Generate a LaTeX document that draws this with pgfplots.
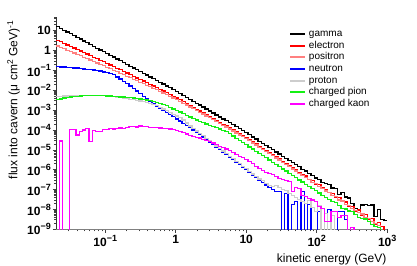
\documentclass[border=0pt]{standalone}
\usepackage{pgfplots}
\pgfplotsset{compat=1.18}
\usepackage{pgfplotstable}
\usepackage{fontspec}
\setmainfont{Liberation Sans}
\newcommand{\tl}[1]{\textbf{10}\raisebox{0.42em}{\fontsize{9bp}{9bp}\selectfont\bfseries #1}}
\definecolor{posred}{RGB}{255,128,128}
\definecolor{protgray}{RGB}{205,205,205}
\definecolor{piongreen}{RGB}{20,240,20}
\definecolor{kaonmag}{RGB}{255,0,255}
\definecolor{elered}{RGB}{255,0,0}
\definecolor{neublue}{RGB}{0,0,255}

\pgfplotstableread{
E gam ele pos neu pro pio kao
0.02 16.2 3.33 1.72 0.155 4.90e-3 3.39e-3 1e-10
0.02229 13.2 2.79 1.46 0.151 5.01e-3 3.72e-3 2.82e-5
0.02483 10.7 2.33 1.24 0.148 5.13e-3 4.07e-3 1e-10
0.02767 8.71 1.95 1.05 0.143 5.25e-3 4.37e-3 1e-10
0.03084 7.08 1.63 0.893 0.138 5.25e-3 4.57e-3 1.10e-4
0.03436 5.75 1.36 0.757 0.135 5.37e-3 4.79e-3 1.10e-4
0.03829 4.68 1.14 0.643 0.132 5.50e-3 5.01e-3 5.62e-5
0.04267 3.80 0.957 0.546 0.126 5.50e-3 5.25e-3 8.32e-5
0.04755 3.09 0.800 0.462 0.120 5.62e-3 5.37e-3 1.00e-4
0.05298 2.51 0.668 0.392 0.115 5.62e-3 5.50e-3 1.23e-4
0.05904 2.04 0.561 0.333 0.110 5.62e-3 5.50e-3 2.57e-5
0.06579 1.66 0.469 0.282 0.106 5.50e-3 5.50e-3 9.55e-5
0.07331 1.33 0.392 0.239 0.101 5.50e-3 5.50e-3 8.32e-5
0.08169 1.08 0.329 0.204 9.33e-2 5.50e-3 5.37e-3 8.71e-5
0.09103 0.879 0.275 0.173 8.51e-2 5.37e-3 5.37e-3 1.10e-4
0.1014 0.713 0.229 0.146 7.76e-2 5.25e-3 5.25e-3 1.07e-4
0.1130 0.578 0.189 0.122 7.08e-2 5.01e-3 5.13e-3 1.17e-4
0.1260 0.470 0.157 0.103 6.03e-2 4.79e-3 5.01e-3 1.12e-4
0.1404 0.381 0.130 8.63e-2 4.68e-2 4.47e-3 4.90e-3 1.20e-4
0.1564 0.309 0.108 7.24e-2 3.72e-2 4.27e-3 4.68e-3 1.26e-4
0.1743 0.251 8.97e-2 6.11e-2 2.88e-2 3.98e-3 4.57e-3 1.17e-4
0.1942 0.204 7.43e-2 5.13e-2 2.24e-2 3.80e-3 4.37e-3 1.32e-4
0.2164 0.165 6.17e-2 4.32e-2 1.66e-2 3.55e-3 4.27e-3 1.45e-4
0.2412 0.134 5.10e-2 3.62e-2 1.23e-2 3.39e-3 4.07e-3 1.51e-4
0.2688 0.109 4.24e-2 3.04e-2 9.12e-3 3.16e-3 3.89e-3 1.41e-4
0.2995 8.84e-2 3.52e-2 2.56e-2 6.76e-3 2.88e-3 3.72e-3 1.58e-4
0.3338 7.16e-2 2.91e-2 2.15e-2 4.90e-3 2.69e-3 3.55e-3 1.51e-4
0.3719 5.82e-2 2.42e-2 1.81e-2 3.63e-3 2.45e-3 3.31e-3 1.45e-4
0.4145 4.72e-2 2.00e-2 1.52e-2 2.69e-3 2.19e-3 3.02e-3 1.38e-4
0.4618 3.83e-2 1.66e-2 1.28e-2 2.09e-3 1.91e-3 2.75e-3 1.32e-4
0.5146 3.11e-2 1.38e-2 1.08e-2 1.62e-3 1.66e-3 2.45e-3 1.35e-4
0.5735 2.52e-2 1.14e-2 8.97e-3 1.26e-3 1.38e-3 2.19e-3 1.26e-4
0.6390 2.05e-2 9.29e-3 7.41e-3 1.00e-3 1.15e-3 1.91e-3 1.20e-4
0.7121 1.66e-2 7.60e-3 6.11e-3 7.76e-4 9.33e-4 1.66e-3 1.17e-4
0.7935 1.35e-2 6.22e-3 5.05e-3 6.03e-4 7.76e-4 1.38e-3 1.12e-4
0.8842 1.09e-2 5.09e-3 4.16e-3 4.68e-4 6.31e-4 1.15e-3 1.05e-4
0.9853 8.83e-3 4.15e-3 3.42e-3 3.63e-4 5.13e-4 9.55e-4 9.55e-5
1.098 7.03e-3 3.33e-3 2.77e-3 2.82e-4 4.17e-4 8.13e-4 8.71e-5
1.223 5.60e-3 2.68e-3 2.24e-3 2.19e-4 3.24e-4 6.76e-4 7.59e-5
1.363 4.46e-3 2.15e-3 1.82e-3 1.70e-4 2.29e-4 5.50e-4 6.31e-5
1.519 3.56e-3 1.73e-3 1.47e-3 1.32e-4 1.62e-4 4.57e-4 5.25e-5
1.693 2.83e-3 1.39e-3 1.19e-3 1.02e-4 1.17e-4 3.72e-4 4.68e-5
1.886 2.25e-3 1.12e-3 9.66e-4 7.94e-5 8.91e-5 3.16e-4 4.17e-5
2.102 1.80e-3 9.02e-4 7.83e-4 6.03e-5 6.76e-5 2.75e-4 3.98e-5
2.342 1.43e-3 7.24e-4 6.35e-4 4.47e-5 5.13e-5 2.34e-4 3.47e-5
2.610 1.14e-3 5.82e-4 5.14e-4 3.31e-5 3.89e-5 2.04e-4 3.02e-5
2.909 9.08e-4 4.68e-4 4.16e-4 2.51e-5 3.02e-5 1.74e-4 2.63e-5
3.241 7.24e-4 3.77e-4 3.36e-4 1.86e-5 2.09e-5 1.51e-4 2.19e-5
3.612 5.77e-4 3.03e-4 2.70e-4 1.38e-5 1.55e-5 1.29e-4 1.82e-5
4.025 4.59e-4 2.43e-4 2.17e-4 1.02e-5 1.15e-5 1.12e-4 1.45e-5
4.472 3.66e-4 1.96e-4 1.75e-4 7.76e-6 8.71e-6 9.55e-5 1.32e-5
4.983 2.92e-4 1.57e-4 1.40e-4 5.75e-6 6.46e-6 8.32e-5 1.10e-5
5.553 2.32e-4 1.25e-4 1.11e-4 4.27e-6 4.79e-6 6.46e-5 9.55e-6
6.188 1.85e-4 1.00e-4 8.91e-5 3.24e-6 3.63e-6 5.01e-5 7.59e-6
6.895 1.48e-4 8.02e-5 7.15e-5 2.40e-6 2.69e-6 3.89e-5 5.75e-6
7.683 1.17e-4 6.41e-5 5.71e-5 1.78e-6 2.00e-6 3.02e-5 4.57e-6
8.562 9.35e-5 5.12e-5 4.56e-5 1.32e-6 1.48e-6 2.34e-5 3.98e-6
9.541 7.45e-5 4.09e-5 3.64e-5 1.00e-6 1.12e-6 1.82e-5 3.16e-6
10.63 5.81e-5 3.21e-5 2.86e-5 7.41e-7 8.32e-7 1.41e-5 2.63e-6
11.85 4.53e-5 2.51e-5 2.24e-5 5.50e-7 6.17e-7 1.10e-5 2.00e-6
13.20 3.53e-5 1.96e-5 1.75e-5 4.07e-7 4.57e-7 8.51e-6 1.41e-6
14.71 2.75e-5 1.53e-5 1.36e-5 3.09e-7 3.47e-7 6.61e-6 1.12e-6
16.39 2.15e-5 1.20e-5 1.07e-5 2.29e-7 2.82e-7 5.13e-6 8.91e-7
18.27 1.67e-5 9.40e-6 8.38e-6 1.70e-7 2.09e-7 3.98e-6 7.08e-7
20.36 1.30e-5 7.31e-6 6.51e-6 1.26e-7 1.58e-7 3.09e-6 6.61e-7
22.68 1.02e-5 5.68e-6 5.06e-6 1.00e-7 1.41e-7 2.40e-6 5.62e-7
25.28 7.93e-6 4.41e-6 3.93e-6 7.94e-8 1.66e-7 1.82e-6 4.47e-7
28.17 6.18e-6 3.42e-6 3.05e-6 7.94e-8 1.26e-7 1.41e-6 3.72e-7
31.39 4.82e-6 2.65e-6 2.36e-6 1e-10 1.00e-7 1.10e-6 3.16e-7
34.98 3.76e-6 2.06e-6 1.84e-6 6.3e-8 8.9e-8 8.51e-7 2.82e-7
38.98 2.85e-6 1.60e-6 1.43e-6 1e-10 6.3e-8 6.61e-7 2.51e-7
43.43 2.35e-6 1.24e-6 1.10e-6 1.78e-8 5.0e-8 5.13e-7 7.94e-8
48.40 1.78e-6 9.62e-7 8.57e-7 2.5e-8 4.0e-8 3.98e-7 1.26e-7
53.93 1.42e-6 7.46e-7 6.65e-7 1e-10 3.2e-8 3.09e-7 1.17e-7
60.10 1.05e-6 5.78e-7 5.15e-7 7.9e-8 2.5e-8 2.40e-7 5.01e-8
66.97 8.6e-7 4.8e-7 4.0e-7 1e-10 2.0e-8 1.86e-7 4.37e-8
74.62 6.4e-7 3.3e-7 3.2e-7 1.78e-8 2.8e-8 1.45e-7 3.55e-8
83.16 5.3e-7 2.9e-7 2.3e-7 1e-10 1.26e-8 1.12e-7 3.02e-8
92.66 3.9e-7 1.9e-7 1.95e-7 1e-10 7.9e-9 8.71e-8 2.51e-8
103.3 3.3e-7 1.75e-7 1.4e-7 7.9e-9 1.6e-8 6.76e-8 1.38e-8
115.0 2.3e-7 1.2e-7 1.15e-7 1e-10 1e-10 5.25e-8 1.12e-8
128.2 2.0e-7 1.05e-7 8.5e-8 1e-10 6.3e-9 4.07e-8 2.5e-9
142.9 1.78e-7 7.0e-8 7.2e-8 1.0e-8 1e-10 3.16e-8 2.5e-9
159.2 1.2e-7 6.5e-8 5.0e-8 1e-10 5.0e-9 2.45e-8 7.9e-9
177.4 1.1e-7 4.2e-8 4.4e-8 1e-10 1e-10 2.2e-8 7.9e-9
197.7 5.6e-8 4.0e-8 3.0e-8 7.9e-9 1e-10 1.58e-8 4.0e-9
220.3 7.1e-8 2.5e-8 2.7e-8 7.9e-9 1e-10 1.1e-8 5.0e-9
245.5 4.3e-8 2.4e-8 1.8e-8 3.2e-9 1e-10 1.05e-8 5.0e-9
273.5 3.8e-8 1.5e-8 1.6e-8 1e-10 1e-10 8.5e-9 1e-10
304.8 2.0e-8 1.45e-8 1.1e-8 1e-10 1e-10 8.0e-9 1.26e-9
339.6 1.12e-8 8.0e-9 9.0e-9 1e-10 1e-10 5.6e-9 1e-10
378.4 1.0e-8 9.5e-9 7.0e-9 1e-10 1e-10 4.0e-9 1e-10
421.7 1.66e-8 5.0e-9 6.0e-9 1e-10 1e-10 3.5e-9 1e-10
469.9 1.78e-8 5.5e-9 4.0e-9 1e-10 1e-10 3.3e-9 1e-10
523.6 1.58e-8 3.0e-9 3.5e-9 1e-10 1e-10 2.4e-9 1e-10
583.4 1.66e-8 3.5e-9 2.5e-9 1e-10 1e-10 1.8e-9 1e-10
650.1 4.5e-9 1.8e-9 2.0e-9 1e-10 1e-10 1.4e-9 1e-10
724.4 1.0e-8 2.2e-9 1.5e-9 1e-10 1e-10 1.26e-9 1e-10
807.2 3.2e-9 1.4e-9 1e-10 1e-10 1e-10 1e-10 1e-10
899.5 2.8e-9 1e-10 1e-10 1e-10 1e-10 1e-10 1e-10
1000 2.8e-9 1e-10 1e-10 1e-10 1e-10 1e-10 1e-10
}\data

\begin{document}
\begin{tikzpicture}
\path[use as bounding box] (0bp,0bp) rectangle (417bp,266bp);
\begin{axis}[
  at={(56bp,36.7bp)}, anchor=south west,
  scale only axis, width=331.2bp, height=212.4bp,
  xmode=log, ymode=log,
  xmin=0.02, xmax=1000, ymin=1e-9, ymax=50,
  axis x line=bottom, axis y line=left,
  x axis line style={-, black!50, line width=0.9bp},
  y axis line style={-, black!80, line width=0.9bp},
  every tick/.style={black!75, line width=0.7bp},
  tick align=outside,
  major tick length=3.5bp, minor tick length=2bp,
  xtick={0.1,1,10,100,1000},
  xticklabels={\tl{−1},\textbf{1},\textbf{10},\tl{2},\tl{3}},
  minor xtick={0.03,0.04,0.05,0.06,0.07,0.08,0.09,0.2,0.3,0.4,0.5,0.6,0.7,0.8,0.9,2,3,4,5,6,7,8,9,20,30,40,50,60,70,80,90,200,300,400,500,600,700,800,900},
  ytick={1e-9,1e-8,1e-7,1e-6,1e-5,1e-4,1e-3,1e-2,1e-1,1,10},
  yticklabels={\tl{−9},\tl{−8},\tl{−7},\tl{−6},\tl{−5},\tl{−4},\tl{−3},\tl{−2},\tl{−1},\textbf{1},\textbf{10}},
  minor ytick={2e-9,3e-9,4e-9,5e-9,6e-9,7e-9,8e-9,9e-9,2e-8,3e-8,4e-8,5e-8,6e-8,7e-8,8e-8,9e-8,2e-7,3e-7,4e-7,5e-7,6e-7,7e-7,8e-7,9e-7,2e-6,3e-6,4e-6,5e-6,6e-6,7e-6,8e-6,9e-6,2e-5,3e-5,4e-5,5e-5,6e-5,7e-5,8e-5,9e-5,2e-4,3e-4,4e-4,5e-4,6e-4,7e-4,8e-4,9e-4,2e-3,3e-3,4e-3,5e-3,6e-3,7e-3,8e-3,9e-3,0.02,0.03,0.04,0.05,0.06,0.07,0.08,0.09,0.2,0.3,0.4,0.5,0.6,0.7,0.8,0.9,2,3,4,5,6,7,8,9,20,30,40,50},
  ticklabel style={font=\fontsize{12bp}{12bp}\selectfont},
  yticklabel style={inner xsep=1.5bp},
  xticklabel style={inner ysep=2bp},
  xlabel={kinetic energy (GeV)},
  ylabel={flux into cavern (μ cm\textsuperscript{2} GeV)\textsuperscript{-1}},
  label style={font=\fontsize{12bp}{12bp}\selectfont},
  xlabel style={at={(axis description cs:1.008,-0.14)}, anchor=east},
  ylabel style={at={(axis description cs:-0.128,1.0)}, anchor=east},
  legend style={at={(axis description cs:0.695,0.955)}, anchor=north west,
    draw=none, fill=none, font=\fontsize{10bp}{10bp}\selectfont,
    nodes={inner sep=0.6bp, text height=7.4bp, text depth=2bp},
    row sep=1.05bp, column sep=2bp},
  legend cell align=left,
  legend image code/.code={\draw[#1, line width=2bp] (0bp,0bp) -- (15bp,0bp);},
  no markers,
  every axis plot/.append style={line width=1.3bp},
]
\addplot[const plot, black] table[x=E, y=gam] {\data};
\addplot[const plot, elered] table[x=E, y=ele] {\data};
\addplot[const plot, posred] table[x=E, y=pos] {\data};
\addplot[const plot, neublue] table[x=E, y=neu] {\data};
\addplot[const plot, protgray] table[x=E, y=pro] {\data};
\addplot[const plot, piongreen] table[x=E, y=pio] {\data};
\addplot[const plot, kaonmag] table[x=E, y=kao] {\data};
\legend{gamma, electron, positron, neutron, proton, charged pion, charged kaon}
\end{axis}
\end{tikzpicture}
\end{document}
